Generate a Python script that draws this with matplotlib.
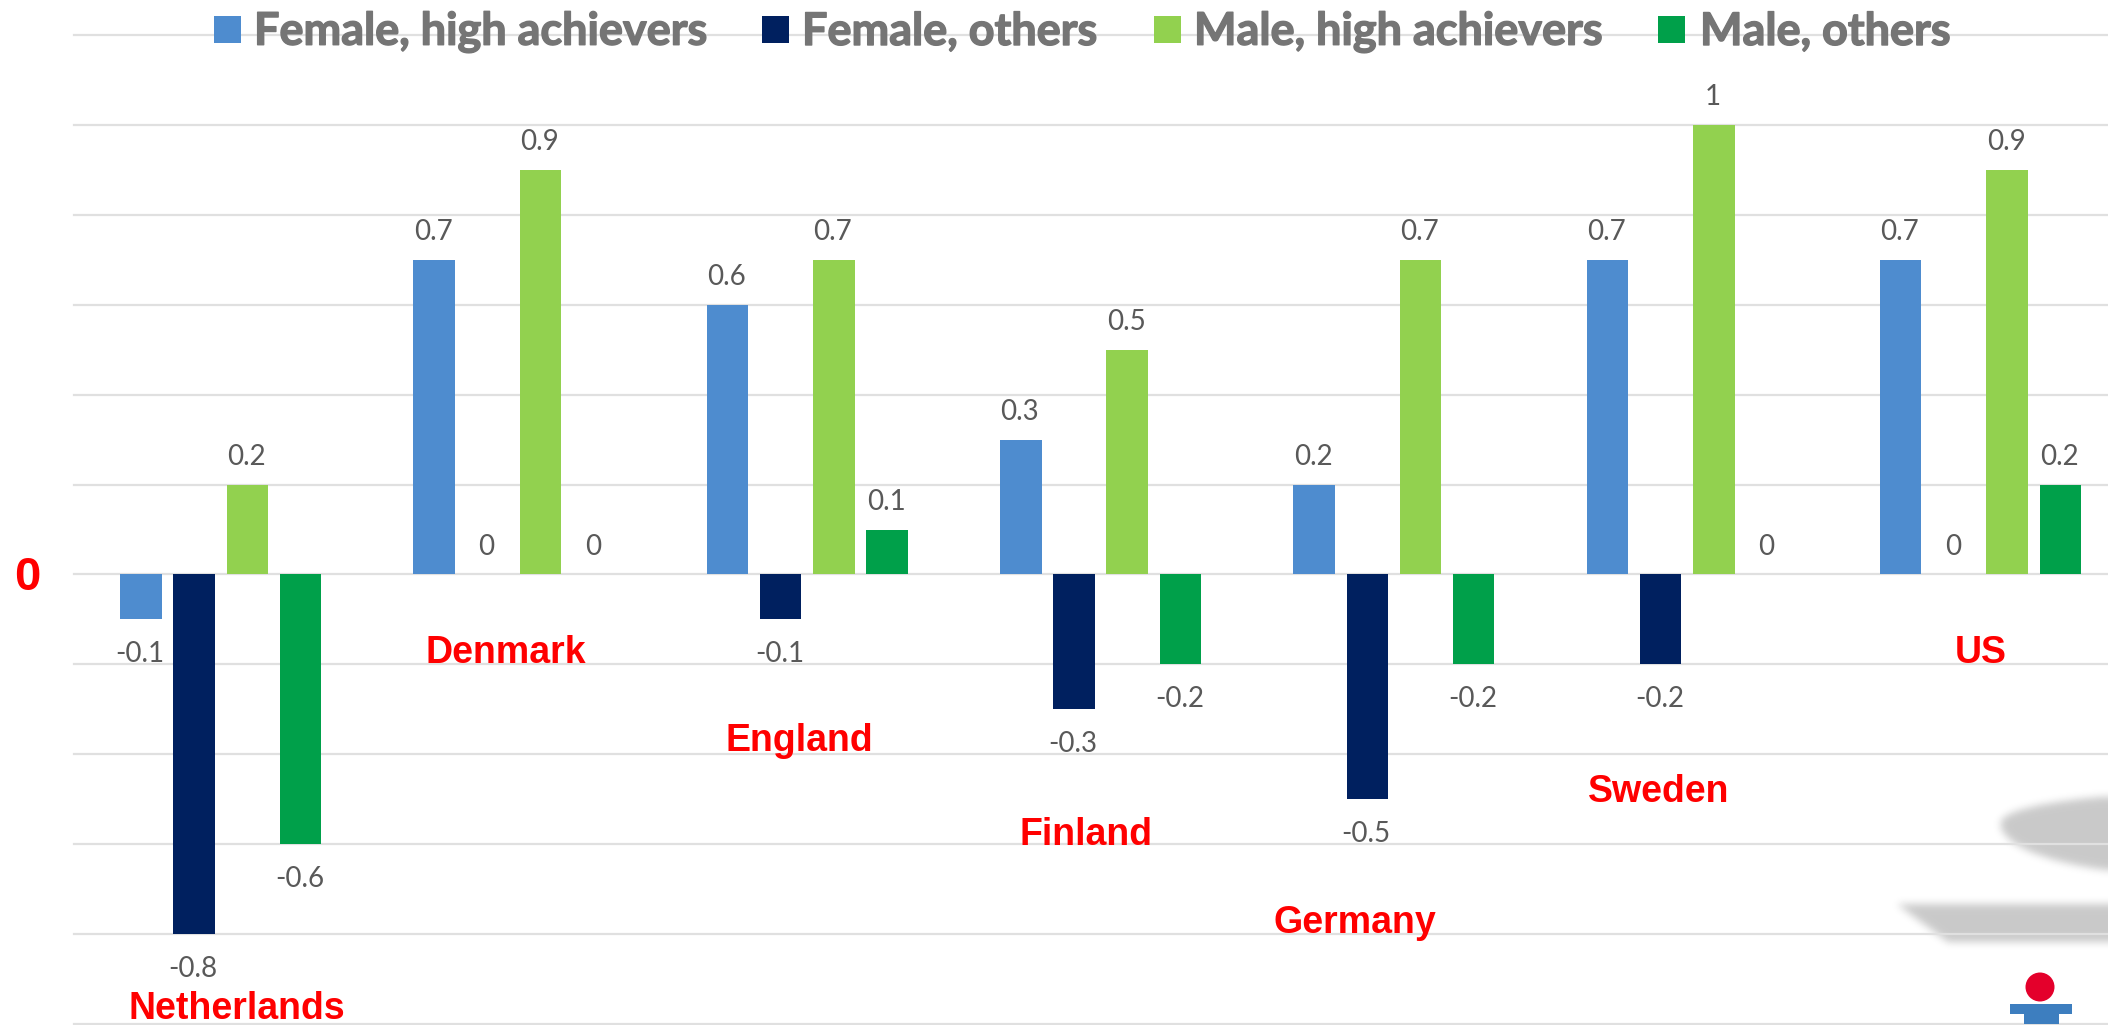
import numpy as np
import matplotlib
matplotlib.use("Agg")
import matplotlib.pyplot as plt
import matplotlib.patheffects as pe
from matplotlib.patches import Circle, Rectangle

countries = ["Netherlands", "Denmark", "England", "Finland", "Germany", "Sweden", "US"]
series_names = ["Female, high achievers", "Female, others", "Male, high achievers", "Male, others"]
female_high = [-0.1, 0.7, 0.6, 0.3, 0.2, 0.7, 0.7]
female_others = [-0.8, 0, -0.1, -0.3, -0.5, -0.2, 0]
male_high = [0.2, 0.9, 0.7, 0.5, 0.7, 1, 0.9]
male_others = [-0.6, 0, 0.1, -0.2, -0.2, 0, 0.2]
colors = ["#4E8CCF", "#00205F", "#92D14F", "#00A04A"]
grid_ticks = [-1.0, -0.8, -0.6, -0.4, -0.2, 0, 0.2, 0.4, 0.6, 0.8, 1.0, 1.2]

W, H = 2108, 1025
fig = plt.figure(figsize=(W / 100, H / 100), dpi=100, facecolor="white")

# blurred shadow decorations (background layer)
yy, xx = np.mgrid[0:H, 0:W]
mask = np.zeros((H, W))
ex = np.clip(1 - ((xx - 2190) / 190.0) ** 2, 0, 1)
inside = np.abs(xx - 2190) < 190
mask[inside & (yy >= 823 - 30 * np.sqrt(ex)) & (yy <= 823 + 52 * np.sqrt(ex))] = 1
mask[(yy >= 904) & (yy <= 941) & (xx >= 1897 + (yy - 904) * 1.35)] = 1
sigma = 4.0
r = np.arange(-14, 15)
k = np.exp(-r ** 2 / (2 * sigma ** 2))
k /= k.sum()
padded = np.pad(mask, 14, mode="edge")
blur = np.apply_along_axis(lambda a: np.convolve(a, k, mode="same"), 0, padded)
blur = np.apply_along_axis(lambda a: np.convolve(a, k, mode="same"), 1, blur)[14:-14, 14:-14]
img = 255 - blur * (255 - 201)
bg = fig.add_axes([0, 0, 1, 1], zorder=0)
bg.imshow(img, cmap="gray", vmin=0, vmax=255, extent=(0, W, H, 0), aspect="auto", interpolation="nearest")
bg.axis("off")

# main chart
left, top, bottom = 74, 35, 1024
ax = fig.add_axes([left / W, 1 - bottom / H, (W - left) / W, (bottom - top) / H], zorder=1)
ax.patch.set_alpha(0)
cat_px = 293.3
ax.set_xlim(-0.5, -0.5 + (W - left) / cat_px)
ax.set_ylim(-1.0, 1.2)
for s in ax.spines.values():
    s.set_visible(False)
ax.set_xticks([])
ax.set_yticks(grid_ticks)
ax.tick_params(left=False, labelleft=False)
ax.grid(axis="y", color="#E0E0E0", lw=1.6, clip_on=False)
ax.set_axisbelow(True)

bar_w = 41.5 / cat_px
step = 53.2 / cat_px
x = np.arange(len(countries))
all_series = [female_high, female_others, male_high, male_others]
for i, (vals, c) in enumerate(zip(all_series, colors)):
    xs = x + (i - 1.5) * step
    ax.bar(xs, vals, width=bar_w, color=c, linewidth=0, zorder=3)
    for xi, v in zip(xs, vals):
        off = 20 if v >= 0 else -25
        ax.annotate(str(v), (xi, v), xytext=(-0.7, off), textcoords="offset points",
                    ha="center", va="center", family="Lato", fontsize=20,
                    color="#595959", zorder=4)

# country labels, placed by hand like the reference
label_x = [0.055, -0.027, -0.027, -0.05, -0.134, -0.098, 0.0]
label_y = [-0.966, -0.175, -0.37, -0.58, -0.775, -0.485, -0.175]
for xi, dx, ly, name in zip(x, label_x, label_y, countries):
    ax.text(xi + dx, ly, name, ha="center", va="center", family="Liberation Sans",
            weight="bold", fontsize=27, color="#FF0000", zorder=5)

# overlay: legend, zero mark, logo (pixel coordinates)
ov = fig.add_axes([0, 0, 1, 1], zorder=2)
ov.set_xlim(0, W)
ov.set_ylim(H, 0)
ov.axis("off")
leg_sq_x = [214, 762, 1154, 1658]
leg_tx_x = [254, 802, 1194, 1700]
for name, c, sx, tx in zip(series_names, colors, leg_sq_x, leg_tx_x):
    ov.add_patch(Rectangle((sx, 16), 27, 27, color=c, lw=0))
    ov.text(tx, 32, name, ha="left", va="center", family="Lato", weight="bold",
            fontsize=32.4, color="#757575",
            path_effects=[pe.withStroke(linewidth=1.0, foreground="#757575")])
ov.text(27, 578, "0", ha="center", va="center", family="Liberation Sans", weight="bold",
        fontsize=34, color="#FF0000")
ov.add_patch(Circle((2040, 987), 14.5, color="#E4002B", lw=0))
ov.add_patch(Rectangle((2010, 1004), 62, 10, color="#3D7EBF", lw=0))
ov.add_patch(Rectangle((2023.5, 1014), 35, 10, color="#3D7EBF", lw=0))

fig.savefig("out.png", dpi=100, facecolor="white")
